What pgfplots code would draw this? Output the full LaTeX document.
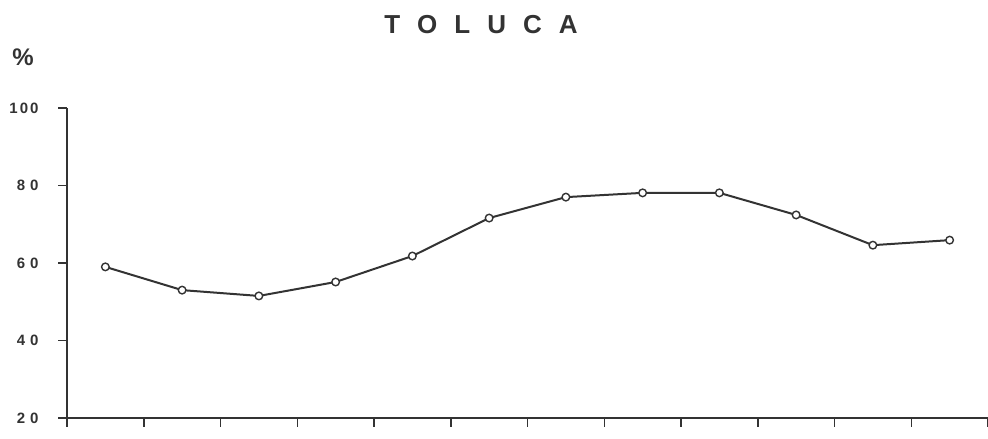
\documentclass[border=0pt]{standalone}
\usepackage{fontspec}
\setmainfont{Liberation Sans}
\usepackage{pgfplots}
\pgfplotsset{compat=1.18}
\definecolor{ink}{HTML}{333333}
\begin{document}
\begin{tikzpicture}[x=1pt,y=1pt]
\useasboundingbox (0,0) rectangle (988,439);
\begin{axis}[
 at={(67pt,21pt)}, anchor=south west,
 scale only axis, width=921pt, height=310pt,
 xmin=0, xmax=12, ymin=20, ymax=100,
 axis lines*=left, axis line style={ink, line width=1.5pt, -},
 xtick={0,...,12}, xticklabels={},
 ytick={20,40,60,80,100},
 yticklabels={2\kern5pt0, 4\kern5pt0, 6\kern5pt0, 8\kern5pt0, 1\kern2pt0\kern2pt0},
 tick align=outside, major tick length=9pt,
 tick style={ink, line width=1.5pt},
 yticklabel style={font=\bfseries\fontsize{15}{15}\selectfont, text=ink, anchor=east, xshift=-16pt},
 clip=false,
]
\addplot[ink, line width=2pt, mark=*, mark size=3.8pt, mark options={fill=white, draw=ink, line width=1.4pt}] coordinates {
(0.5,59.0) (1.5,53.0) (2.5,51.5) (3.5,55.1) (4.5,61.8) (5.5,71.6)
(6.5,77.0) (7.5,78.1) (8.5,78.1) (9.5,72.4) (10.5,64.6) (11.5,65.9)};
\end{axis}
\node[font=\bfseries\fontsize{26}{26}\selectfont, text=ink] at (481,414) {T\hspace{17pt}O\hspace{17pt}L\hspace{17pt}U\hspace{17pt}C\hspace{17pt}A};
\node[font=\bfseries\fontsize{24}{24}\selectfont, text=ink] at (23,382) {\%};
\end{tikzpicture}
\end{document}
